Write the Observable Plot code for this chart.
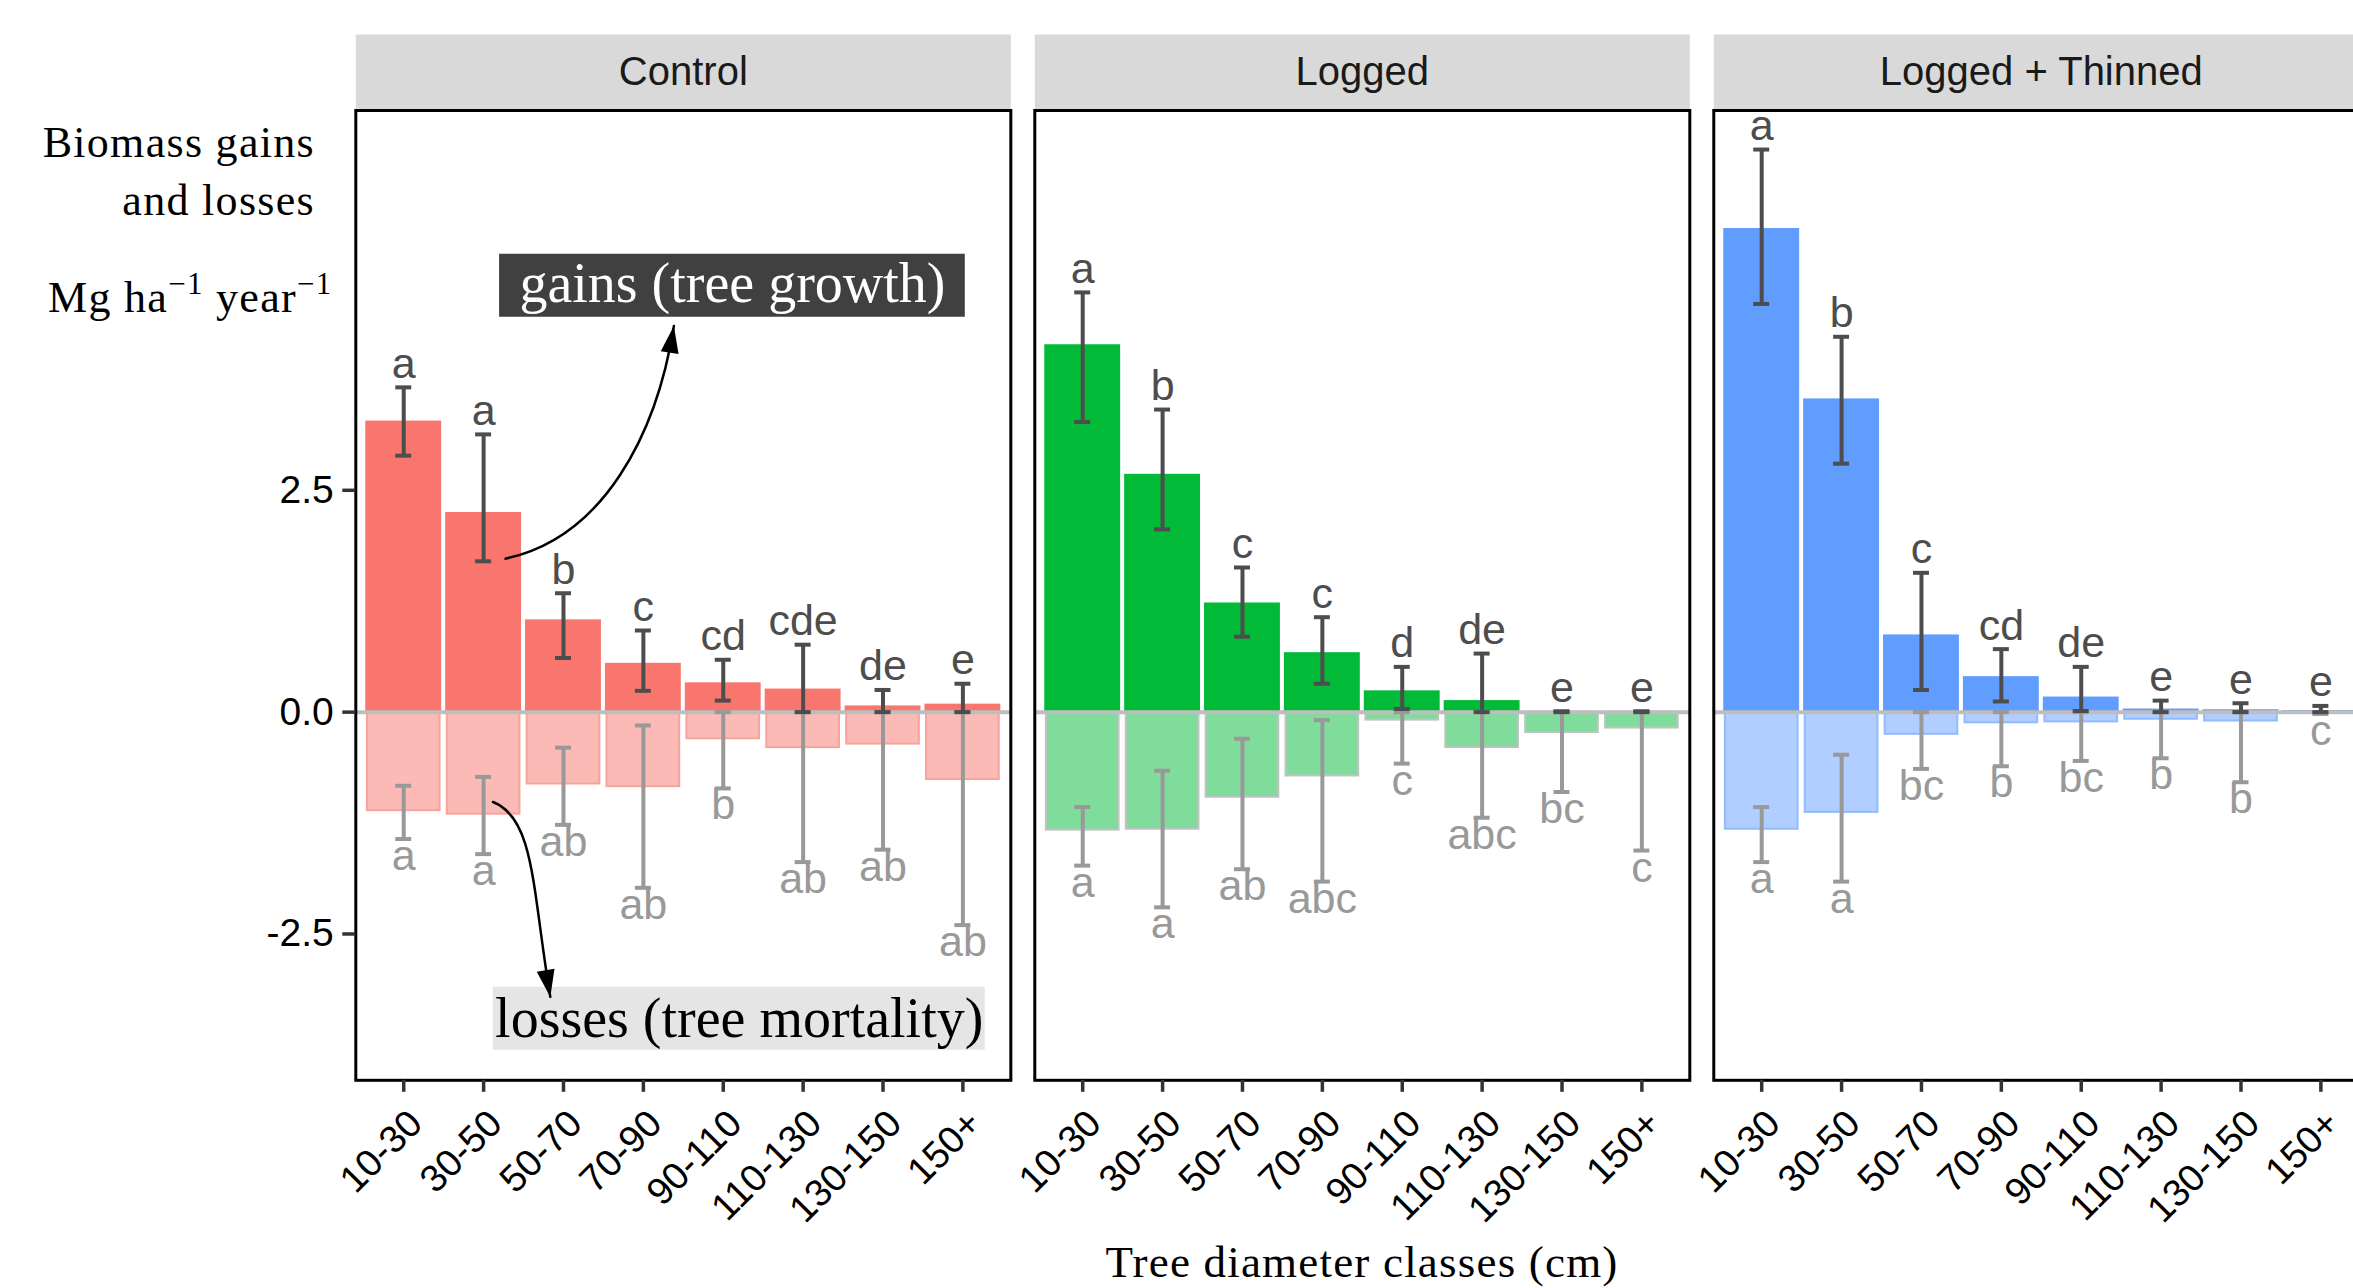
<!DOCTYPE html>
<html>
<head>
<meta charset="utf-8">
<script src="https://cdn.jsdelivr.net/npm/d3@7"></script>
<script src="https://cdn.jsdelivr.net/npm/@observablehq/plot@0.6"></script>
<style>
  html, body { margin: 0; padding: 0; overflow: hidden; background: white; }
</style>
</head>
<body>
<div id="chart"></div>
<script>
// ---------- data ----------
const classes = ["10-30", "30-50", "50-70", "70-90", "90-110", "110-130", "130-150", "150+"];
const treatments = ["Control", "Logged", "Logged + Thinned"];
const barColors = ["#F8766D", "#00BA38", "#619CFF"];
const lossFills = ["#FBBAB6", "#80DC9B", "#B0CEFF"];
const lossStrokes = ["#F7A39D", "#C2C2C2", "#92BAFF"];

// gains (tree growth), Mg ha-1 year-1, with error-bar bounds
const gainControl   = [3.28, 2.25, 1.04, 0.55, 0.33, 0.26, 0.07, 0.09];
const gainControlLo = [2.89, 1.70, 0.61, 0.24, 0.13, 0.00, 0.00, 0.00];
const gainControlHi = [3.66, 3.13, 1.34, 0.92, 0.59, 0.76, 0.25, 0.32];
const gainLogged    = [4.14, 2.68, 1.23, 0.67, 0.24, 0.13, 0.005, 0.005];
const gainLoggedLo  = [3.27, 2.06, 0.85, 0.32, 0.035, 0.00, 0.00, 0.00];
const gainLoggedHi  = [4.73, 3.41, 1.63, 1.07, 0.51, 0.66, 0.01, 0.01];
const gainThinned   = [5.45, 3.53, 0.87, 0.40, 0.17, 0.035, 0.027, 0.018];
const gainThinnedLo = [4.60, 2.80, 0.25, 0.12, 0.013, 0.00, 0.00, 0.00];
const gainThinnedHi = [6.34, 4.23, 1.57, 0.71, 0.51, 0.13, 0.10, 0.07];

// losses (tree mortality), negative values, with error-bar bounds
const lossControl    = [-1.11, -1.15, -0.81, -0.84, -0.30, -0.40, -0.36, -0.76];
const lossControlLo  = [-0.83, -0.73, -0.40, -0.15, 0, 0, 0, 0];
const lossControlHi  = [-1.43, -1.60, -1.27, -1.98, -0.86, -1.69, -1.55, -2.40];
const lossLogged     = [-1.33, -1.32, -0.96, -0.72, -0.09, -0.40, -0.23, -0.18];
const lossLoggedLo   = [-1.07, -0.66, -0.30, -0.09, 0, 0, 0, 0];
const lossLoggedHi   = [-1.73, -2.20, -1.77, -1.91, -0.58, -1.19, -0.90, -1.56];
const lossThinned    = [-1.32, -1.13, -0.25, -0.12, -0.11, -0.08, -0.10, -0.01];
const lossThinnedLo  = [-1.07, -0.48, 0, 0, 0, 0, 0, 0];
const lossThinnedHi  = [-1.69, -1.91, -0.64, -0.61, -0.55, -0.52, -0.79, -0.02];

// significance letters
const gainLetControl = ["a", "a", "b", "c", "cd", "cde", "de", "e"];
const gainLetLogged  = ["a", "b", "c", "c", "d", "de", "e", "e"];
const gainLetThinned = ["a", "b", "c", "cd", "de", "e", "e", "e"];
const lossLetControl = ["a", "a", "ab", "ab", "b", "ab", "ab", "ab"];
const lossLetLogged  = ["a", "a", "ab", "abc", "c", "abc", "bc", "c"];
const lossLetThinned = ["a", "a", "bc", "b", "bc", "b", "b", "c"];

// annotations (data coordinates of the Control panel)
const annoBoxes = [
  {treatment: "Control", x1: 2.20, x2: 8.03, y1: 4.45, y2: 5.16, fill: "#404040"},
  {treatment: "Control", x1: 2.12, x2: 8.28, y1: -3.81, y2: -3.10, fill: "#E5E5E5"}
];
const annoTexts = [
  {treatment: "Control", x: 5.115, y: 4.82, text: "gains (tree growth)", fill: "#FFFFFF"},
  {treatment: "Control", x: 5.20, y: -3.46, text: "losses (tree mortality)", fill: "#000000"}
];
const gainsArrow = [[2.274, 1.730], [3.497, 1.965], [4.167, 3.126], [4.382, 4.351]];
const lossesArrow = [[2.118, -1.013], [2.642, -1.199], [2.607, -1.986], [2.835, -3.209]];
const arrowHeads = [
  {treatment: "Control", x: 4.382, y: 4.351, rotate: 9},
  {treatment: "Control", x: 2.835, y: -3.209, rotate: 170}
];

// ---------- table ----------
const gains = [gainControl, gainLogged, gainThinned];
const gainsLo = [gainControlLo, gainLoggedLo, gainThinnedLo];
const gainsHi = [gainControlHi, gainLoggedHi, gainThinnedHi];
const losses = [lossControl, lossLogged, lossThinned];
const lossesLo = [lossControlLo, lossLoggedLo, lossThinnedLo];
const lossesHi = [lossControlHi, lossLoggedHi, lossThinnedHi];
const gainLets = [gainLetControl, gainLetLogged, gainLetThinned];
const lossLets = [lossLetControl, lossLetLogged, lossLetThinned];

const rows = [];
treatments.forEach((t, k) => {
  classes.forEach((c, j) => {
    rows.push({
      treatment: t, i: j + 1, cls: c,
      gain: gains[k][j], gainLo: gainsLo[k][j], gainHi: gainsHi[k][j],
      loss: losses[k][j], lossLo: lossesLo[k][j], lossHi: lossesHi[k][j],
      gainLetter: gainLets[k][j], lossLetter: lossLets[k][j],
      color: barColors[k], lossFill: lossFills[k], lossStroke: lossStrokes[k]
    });
  });
});

const arrowPts = [];
gainsArrow.forEach(([x, y]) => arrowPts.push({treatment: "Control", id: "g", x, y}));
lossesArrow.forEach(([x, y]) => arrowPts.push({treatment: "Control", id: "l", x, y}));

// cubic Bezier curve: points are start, control1, control2, end
function bezierCurve(context) {
  let pts = [];
  return {
    areaStart() {}, areaEnd() {},
    lineStart() { pts = []; },
    point(x, y) { pts.push([+x, +y]); },
    lineEnd() {
      if (pts.length < 4) return;
      const [a, b, c, d] = pts;
      context.moveTo(a[0], a[1]);
      context.bezierCurveTo(b[0], b[1], c[0], c[1], d[0], d[1]);
    }
  };
}

const W = 2380, H = 1288;
const mL = 355.3, mR = W - 2368.3, mT = 110, mB = H - 1079.8;
const innerH = H - mT - mB;
const letterSize = 43;

const chart = Plot.plot({
  width: W,
  height: H,
  marginLeft: mL,
  marginRight: mR,
  marginTop: mT,
  marginBottom: mB,
  x: {domain: [0.4, 8.6], label: null},
  y: {domain: [-4.149, 6.78], label: null},
  fx: {domain: treatments, paddingInner: 0.0353, paddingOuter: 0, round: false, axis: null, label: null},
  color: {type: "identity"},
  style: {fontFamily: "'Liberation Sans', Arial, sans-serif", maxWidth: "none", background: "white", overflow: "visible"},
  marks: [
    // strip background
    Plot.frame({fill: "#D9D9D9", stroke: null, insetTop: -76, insetBottom: innerH}),
    Plot.text(treatments, {fx: d => d, text: d => d, frameAnchor: "top", lineAnchor: "middle", dy: -38, fontSize: 40, fill: "#1A1A1A"}),
    // loss bars
    Plot.rectY(rows, {fx: "treatment", x1: d => d.i - 0.455, x2: d => d.i + 0.455, y1: 0, y2: "loss",
      fill: "lossFill", stroke: "lossStroke", strokeWidth: 2}),
    // gain bars
    Plot.rectY(rows, {fx: "treatment", x1: d => d.i - 0.475, x2: d => d.i + 0.475, y1: 0, y2: "gain", fill: "color"}),
    // zero line
    Plot.ruleY([0], {stroke: "#BEBEBE", strokeWidth: 4}),
    // loss error bars
    Plot.ruleX(rows, {fx: "treatment", x: "i", y1: "lossLo", y2: "lossHi", stroke: "#999999", strokeWidth: 4}),
    Plot.ruleY(rows, {fx: "treatment", y: "lossLo", x1: d => d.i - 0.1, x2: d => d.i + 0.1, stroke: "#999999", strokeWidth: 4}),
    Plot.ruleY(rows, {fx: "treatment", y: "lossHi", x1: d => d.i - 0.1, x2: d => d.i + 0.1, stroke: "#999999", strokeWidth: 4}),
    // gain error bars
    Plot.ruleX(rows, {fx: "treatment", x: "i", y1: "gainLo", y2: "gainHi", stroke: "#4D4D4D", strokeWidth: 4}),
    Plot.ruleY(rows, {fx: "treatment", y: "gainLo", x1: d => d.i - 0.1, x2: d => d.i + 0.1, stroke: "#4D4D4D", strokeWidth: 4}),
    Plot.ruleY(rows, {fx: "treatment", y: "gainHi", x1: d => d.i - 0.1, x2: d => d.i + 0.1, stroke: "#4D4D4D", strokeWidth: 4}),
    // letters
    Plot.text(rows, {fx: "treatment", x: "i", y: "gainHi", text: "gainLetter", dy: -9.5 - 0.32 * letterSize, fontSize: letterSize, fill: "#4D4D4D"}),
    Plot.text(rows, {fx: "treatment", x: "i", y: "lossHi", text: "lossLetter", dy: 31 - 0.32 * letterSize, fontSize: letterSize, fill: "#999999"}),
    // panel border
    Plot.frame({stroke: "black", strokeWidth: 3}),
    // axes
    Plot.axisY({ticks: [-2.5, 0, 2.5], tickFormat: d => d.toFixed(1), tickSize: 13, tickPadding: 9,
      fontSize: 39, stroke: "#333333", strokeWidth: 3.5, fill: "black", label: null}),
    Plot.axisX({ticks: d3.range(1, 9), tickFormat: () => "", tickSize: 12, stroke: "#333333", strokeWidth: 3.5, fill: "none", label: null}),
    Plot.axisX({ticks: d3.range(1, 9), tickFormat: i => classes[i - 1], tickSize: 0, tickPadding: 37, dx: 12,
      tickRotate: -45, fontSize: 38, fill: "black", label: null}),
    // annotations
    Plot.rect(annoBoxes, {fx: "treatment", x1: "x1", x2: "x2", y1: "y1", y2: "y2", fill: "fill"}),
    Plot.text(annoTexts, {fx: "treatment", x: "x", y: "y", text: "text", fill: "fill", fontSize: 56,
      fontFamily: "'Liberation Serif', 'Times New Roman', serif"}),
    Plot.line(arrowPts, {fx: "treatment", x: "x", y: "y", z: "id", curve: bezierCurve, stroke: "black", strokeWidth: 2.5}),
    Plot.vector(arrowHeads, {fx: "treatment", x: "x", y: "y", rotate: "rotate", shape: "spike", anchor: "end",
      length: 27, r: 9, fill: "black", stroke: "none"})
  ]
});

document.getElementById("chart").appendChild(chart);

// axis titles
const svg = d3.select(chart);
const serif = "'Liberation Serif', 'Times New Roman', serif";
svg.append("text").attr("x", 315).attr("y", 157).attr("text-anchor", "end")
  .attr("font-family", serif).attr("font-size", 44).attr("letter-spacing", 1.3).attr("fill", "black")
  .text("Biomass gains");
svg.append("text").attr("x", 315).attr("y", 215).attr("text-anchor", "end")
  .attr("font-family", serif).attr("font-size", 44).attr("letter-spacing", 1.3).attr("fill", "black")
  .text("and losses");
const units = svg.append("text").attr("x", 48).attr("y", 312).attr("text-anchor", "start")
  .attr("font-family", serif).attr("font-size", 44).attr("letter-spacing", 1.3).attr("fill", "black");
units.append("tspan").text("Mg ha");
units.append("tspan").attr("dy", -18).attr("font-size", 31).text("\u22121");
units.append("tspan").attr("dy", 18).text(" year");
units.append("tspan").attr("dy", -18).attr("font-size", 31).text("\u22121");
svg.append("text").attr("x", 1362).attr("y", 1277).attr("text-anchor", "middle")
  .attr("font-family", serif).attr("font-size", 45).attr("letter-spacing", 1.2).attr("fill", "black")
  .text("Tree diameter classes (cm)");
</script>
</body>
</html>
